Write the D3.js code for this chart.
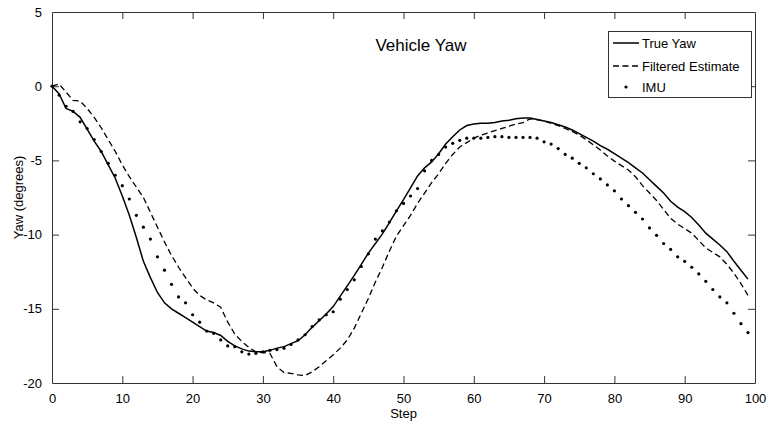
<!DOCTYPE html>
<html>
<head>
<meta charset="utf-8">
<script src="https://cdn.jsdelivr.net/npm/d3@7"></script>
<style>
  html, body { margin: 0; padding: 0; background: #fff; }
  svg { display: block; font-family: Arial, "Liberation Sans", sans-serif; }
</style>
</head>
<body>
<svg id="chart" width="767" height="423"></svg>
<script>
// Yaw angle per simulation step (degrees)
const steps = d3.range(0, 100);

const trueYaw = [
  0, -0.5, -1.5, -1.7, -2.1, -2.9, -3.7, -4.4, -5.3, -6.2,
  -7.4, -8.7, -10.2, -11.8, -12.9, -13.9, -14.6, -15.0, -15.3, -15.6,
  -15.9, -16.2, -16.5, -16.6, -16.8, -17.2, -17.5, -17.7, -17.85, -17.9,
  -17.9, -17.8, -17.65, -17.55, -17.35, -17.15, -16.75, -16.25, -15.8, -15.35,
  -14.85, -14.15, -13.45, -12.75, -12.0, -11.25, -10.6, -9.95, -9.2, -8.4,
  -7.65, -6.85, -6.05, -5.5, -5.1, -4.55, -3.9, -3.4, -2.95, -2.65,
  -2.55, -2.5, -2.5, -2.45, -2.35, -2.3, -2.2, -2.15, -2.15, -2.25,
  -2.35, -2.45, -2.6, -2.75, -2.95, -3.2, -3.45, -3.7, -4.0, -4.25,
  -4.55, -4.85, -5.15, -5.5, -5.85, -6.3, -6.75, -7.2, -7.75, -8.15,
  -8.45, -8.85, -9.35, -9.9, -10.3, -10.7, -11.15, -11.8, -12.4, -13.0
];

const filteredEstimate = [
  0, 0.15, -0.4, -0.95, -1.0, -1.5, -2.1, -2.8, -3.6, -4.4,
  -5.3, -6.1, -6.8, -7.5, -8.5, -9.5, -10.5, -11.4, -12.2, -12.9,
  -13.6, -14.1, -14.4, -14.6, -14.9, -15.9, -16.7, -17.2, -17.6, -17.9,
  -17.95, -18.0, -18.9, -19.3, -19.35, -19.45, -19.5, -19.25, -18.9, -18.5,
  -18.1, -17.65, -17.1, -16.3, -15.3, -14.3, -13.2, -12.2, -11.1, -10.1,
  -9.4, -8.7, -7.9, -7.2, -6.5, -5.9, -5.2, -4.6, -4.1, -3.8,
  -3.5, -3.3, -3.15, -3.0, -2.85, -2.7, -2.55, -2.45, -2.2, -2.25,
  -2.35, -2.5, -2.65, -2.85, -3.05, -3.3, -3.6, -3.95, -4.3, -4.7,
  -5.05, -5.35, -5.65, -6.1, -6.7, -7.2, -7.7, -8.3, -8.9, -9.3,
  -9.6, -9.9, -10.4, -10.9, -11.2, -11.5, -12.0, -12.6, -13.3, -14.1
];

const imu = [
  0, -0.6, -1.35, -1.7, -2.4, -2.85, -3.6, -4.4, -5.2, -6.0,
  -6.7, -7.6, -8.7, -9.5, -10.3, -11.5, -12.4, -13.35, -14.2, -14.6,
  -15.4, -15.9, -16.5, -16.65, -17.1, -17.5, -17.55, -17.9, -18.05, -18.0,
  -17.9, -17.8, -17.75, -17.65, -17.4, -17.1, -16.75, -16.2, -15.75, -15.4,
  -15.2, -14.35, -13.7, -13.05, -12.15, -11.3, -10.3, -9.75, -9.15, -8.4,
  -7.9, -7.4, -6.9, -5.7, -5.0, -4.6, -4.1, -3.85, -3.65, -3.5,
  -3.5, -3.5, -3.45, -3.4, -3.4, -3.45, -3.45, -3.45, -3.45, -3.5,
  -3.75, -3.9, -4.2, -4.6, -4.85, -5.2, -5.5, -5.9, -6.25, -6.65,
  -7.05, -7.6, -8.05, -8.5, -8.95, -9.55, -10.05, -10.6, -11.0, -11.5,
  -11.8, -12.2, -12.65, -13.15, -13.7, -14.2, -14.6, -15.3, -16.0, -16.6
];

const xTicks = [0, 10, 20, 30, 40, 50, 60, 70, 80, 90, 100];
const yTicks = [-20, -15, -10, -5, 0, 5];
const legendLabels = ["True Yaw", "Filtered Estimate", "IMU"];

const svg = d3.select("#chart");
const margin = { left: 52, right: 12, top: 12, bottom: 40 };
const W = 767, H = 423;
const x0 = margin.left, x1 = W - margin.right;
const y0 = margin.top, y1 = H - margin.bottom;

const x = d3.scaleLinear().domain([0, 100]).range([x0, x1]);
const y = d3.scaleLinear().domain([-20, 5]).range([y1, y0]);

const axisColor = "#333";
const tickLen = 7;
const plainNum = d => String(d); // ASCII hyphen for negatives

// Axes with inward ticks on all four sides
const gBottom = svg.append("g").attr("transform", `translate(0,${y1})`)
  .call(d3.axisBottom(x).tickValues(xTicks).tickFormat(plainNum)
    .tickSizeInner(-tickLen).tickSizeOuter(0).tickPadding(11));
const gTop = svg.append("g").attr("transform", `translate(0,${y0})`)
  .call(d3.axisTop(x).tickValues(xTicks).tickSizeInner(-tickLen).tickSizeOuter(0).tickFormat(""));
const gLeft = svg.append("g").attr("transform", `translate(${x0},0)`)
  .call(d3.axisLeft(y).tickValues(yTicks).tickFormat(plainNum)
    .tickSizeInner(-tickLen).tickSizeOuter(0).tickPadding(10));
const gRight = svg.append("g").attr("transform", `translate(${x1},0)`)
  .call(d3.axisRight(y).tickValues(yTicks).tickSizeInner(-tickLen).tickSizeOuter(0).tickFormat(""));

[gBottom, gTop, gLeft, gRight].forEach(g => {
  g.selectAll("path.domain").attr("stroke", axisColor).attr("stroke-width", 1);
  g.selectAll(".tick line").attr("stroke", axisColor).attr("stroke-width", 1);
  g.selectAll(".tick text")
    .attr("fill", "#000")
    .style("font-family", "Arial, 'Liberation Sans', sans-serif")
    .style("font-size", "13px");
});
// corner ticks coincide with the frame
[gBottom, gTop].forEach(g => g.selectAll(".tick").filter(d => d === 0 || d === 100).select("line").remove());
[gLeft, gRight].forEach(g => g.selectAll(".tick").filter(d => d === -20 || d === 5).select("line").remove());

// Series
const seriesLine = d3.line().x((d, i) => x(steps[i])).y(d => y(d));

svg.append("path")
  .datum(filteredEstimate)
  .attr("d", seriesLine)
  .attr("fill", "none")
  .attr("stroke", "#000")
  .attr("stroke-width", 1.3)
  .attr("stroke-dasharray", "6,3.5");

svg.append("path")
  .datum(trueYaw)
  .attr("d", seriesLine)
  .attr("fill", "none")
  .attr("stroke", "#000")
  .attr("stroke-width", 1.5);

svg.append("g").selectAll("circle")
  .data(imu)
  .join("circle")
  .attr("cx", (d, i) => x(steps[i]))
  .attr("cy", d => y(d))
  .attr("r", 1.6)
  .attr("fill", "#000");

// Title and axis labels
svg.append("text")
  .attr("x", 421).attr("y", 51)
  .attr("text-anchor", "middle")
  .style("font-size", "17px")
  .text("Vehicle Yaw");

svg.append("text")
  .attr("x", (x0 + x1) / 2).attr("y", 418)
  .attr("text-anchor", "middle")
  .style("font-size", "13px")
  .text("Step");

svg.append("text")
  .attr("transform", `translate(23,${(y0 + y1) / 2}) rotate(-90)`)
  .attr("text-anchor", "middle")
  .style("font-size", "13px")
  .text("Yaw (degrees)");

// Legend
const lg = svg.append("g");
lg.append("rect")
  .attr("x", 608.5).attr("y", 31.5)
  .attr("width", 143).attr("height", 66)
  .attr("fill", "#fff")
  .attr("stroke", axisColor)
  .attr("stroke-width", 1);

const rowY = [43, 66, 87];
lg.append("line")
  .attr("x1", 613).attr("x2", 639).attr("y1", rowY[0]).attr("y2", rowY[0])
  .attr("stroke", "#000").attr("stroke-width", 1.5);
lg.append("line")
  .attr("x1", 613).attr("x2", 639).attr("y1", rowY[1]).attr("y2", rowY[1])
  .attr("stroke", "#000").attr("stroke-width", 1.3).attr("stroke-dasharray", "6,3.5");
lg.append("circle")
  .attr("cx", 626).attr("cy", rowY[2]).attr("r", 1.6).attr("fill", "#000");

lg.selectAll("text.leg")
  .data(legendLabels)
  .join("text")
  .attr("class", "leg")
  .attr("x", 642)
  .attr("y", (d, i) => rowY[i] + 5)
  .style("font-size", "13px")
  .text(d => d);
</script>
</body>
</html>
